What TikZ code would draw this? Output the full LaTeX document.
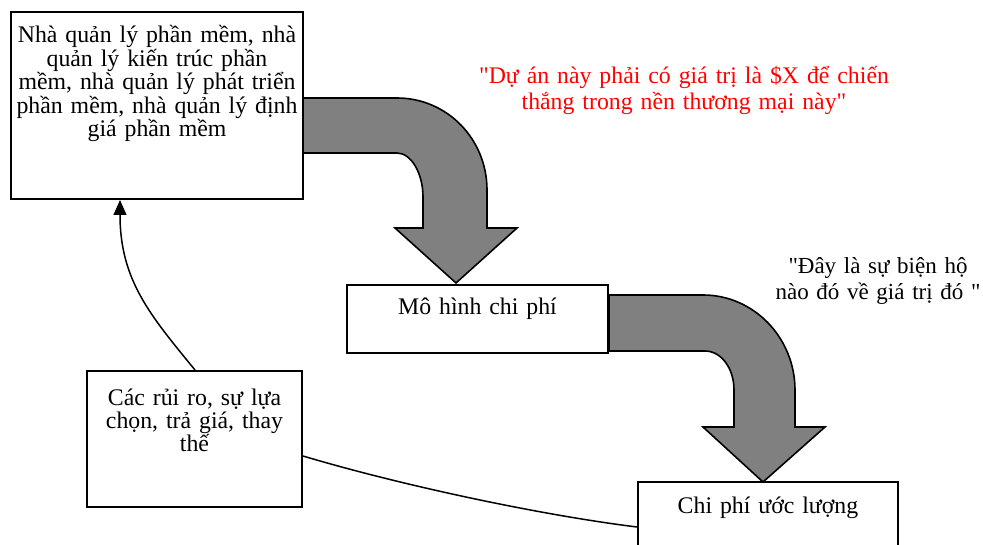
\documentclass[tikz,border=0pt]{standalone}
\usepackage{fontspec}
\setmainfont{Liberation Serif}[Ligatures=TeXOff]
\usetikzlibrary{arrows.meta}
\definecolor{blockgray}{HTML}{808080}
\definecolor{quotered}{HTML}{FF0000}
\begin{document}
\begin{tikzpicture}[x=1pt,y=-1pt,
  box/.style={draw=black, fill=white, line width=2pt, rectangle, inner sep=0pt},
  boxtext/.style={inner sep=0pt, anchor=base, text width=#1, align=center,
    font=\fontsize{23.8pt}{23.4pt}\selectfont},
  quote/.style={inner sep=0pt, anchor=base, text width=#1, align=center,
    font=\fontsize{23.8pt}{26pt}\selectfont},
  blockarrow/.style={fill=blockgray, draw=black, line width=1.6pt, line join=miter},
  link/.style={draw=black, line width=1.5pt}
]
\useasboundingbox (0,0) rectangle (983,545);

% block arrows (drawn first so the box borders sit on top)
\draw[blockarrow] (303,98) -- (397,98) .. controls (447,98) and (487,139) .. (487,190)
  -- (487,228) -- (517,228) -- (456,283) -- (395,228) -- (423,228) -- (423,197)
  .. controls (423,173) and (411,153) .. (397,153) -- (303,153) -- cycle;
\draw[blockarrow] (609,295) -- (703,295) .. controls (754,295) and (795,338) .. (795,390)
  -- (795,427) -- (825,427) -- (763,482) -- (703,427) -- (734,427) -- (734,390)
  .. controls (734,368) and (721,351) .. (705,351) -- (609,351) -- cycle;

% boxes
\node[box, minimum width=292pt, minimum height=187pt] (b1) at (157,105.5) {};
\node[box, minimum width=261pt, minimum height=68pt] (b2) at (477.5,319) {};
\node[box, minimum width=260pt, minimum height=78pt] (b3) at (768,521) {};
\node[box, minimum width=215pt, minimum height=136pt] (b4) at (194.5,439) {};

% box texts
\node[boxtext=290pt] (t1) at (157,43) {Nhà quản lý phần mềm, nhà\\ quản lý kiến trúc phần\\ mềm, nhà quản lý phát triển\\ phần mềm, nhà quản lý định\\ giá phần mềm};
\node[boxtext=255pt] (t2) at (477.5,315) {Mô hình chi phí};
\node[boxtext=255pt] (t3) at (768,513) {Chi phí ước lượng};
\node[boxtext=210pt] (t4) at (194.5,405) {Các rủi ro, sự lựa\\ chọn, trả giá, thay\\ thế};

% free quotes
\node[quote=420pt, text=quotered] (q1) at (684,84) {"Dự án này phải có giá trị là \$X để chiến\\ thắng trong nền thương mại này"};
\node[quote=220pt, font=\fontsize{23pt}{26pt}\selectfont] (q2) at (878,274) {"Đây là sự biện hộ\\ nào đó về giá trị đó~"};

% connectors
\draw[link, -{Triangle[width=13pt,length=15pt]}] ([xshift=0.5pt]b4.north)
  .. controls (150,315) and (120,280) .. ([xshift=-37pt]b1.south);
\draw[link] ([yshift=-17pt]b4.east) .. controls (400,485) and (540,515) .. ([yshift=-6pt]b3.west);
\end{tikzpicture}
\end{document}
